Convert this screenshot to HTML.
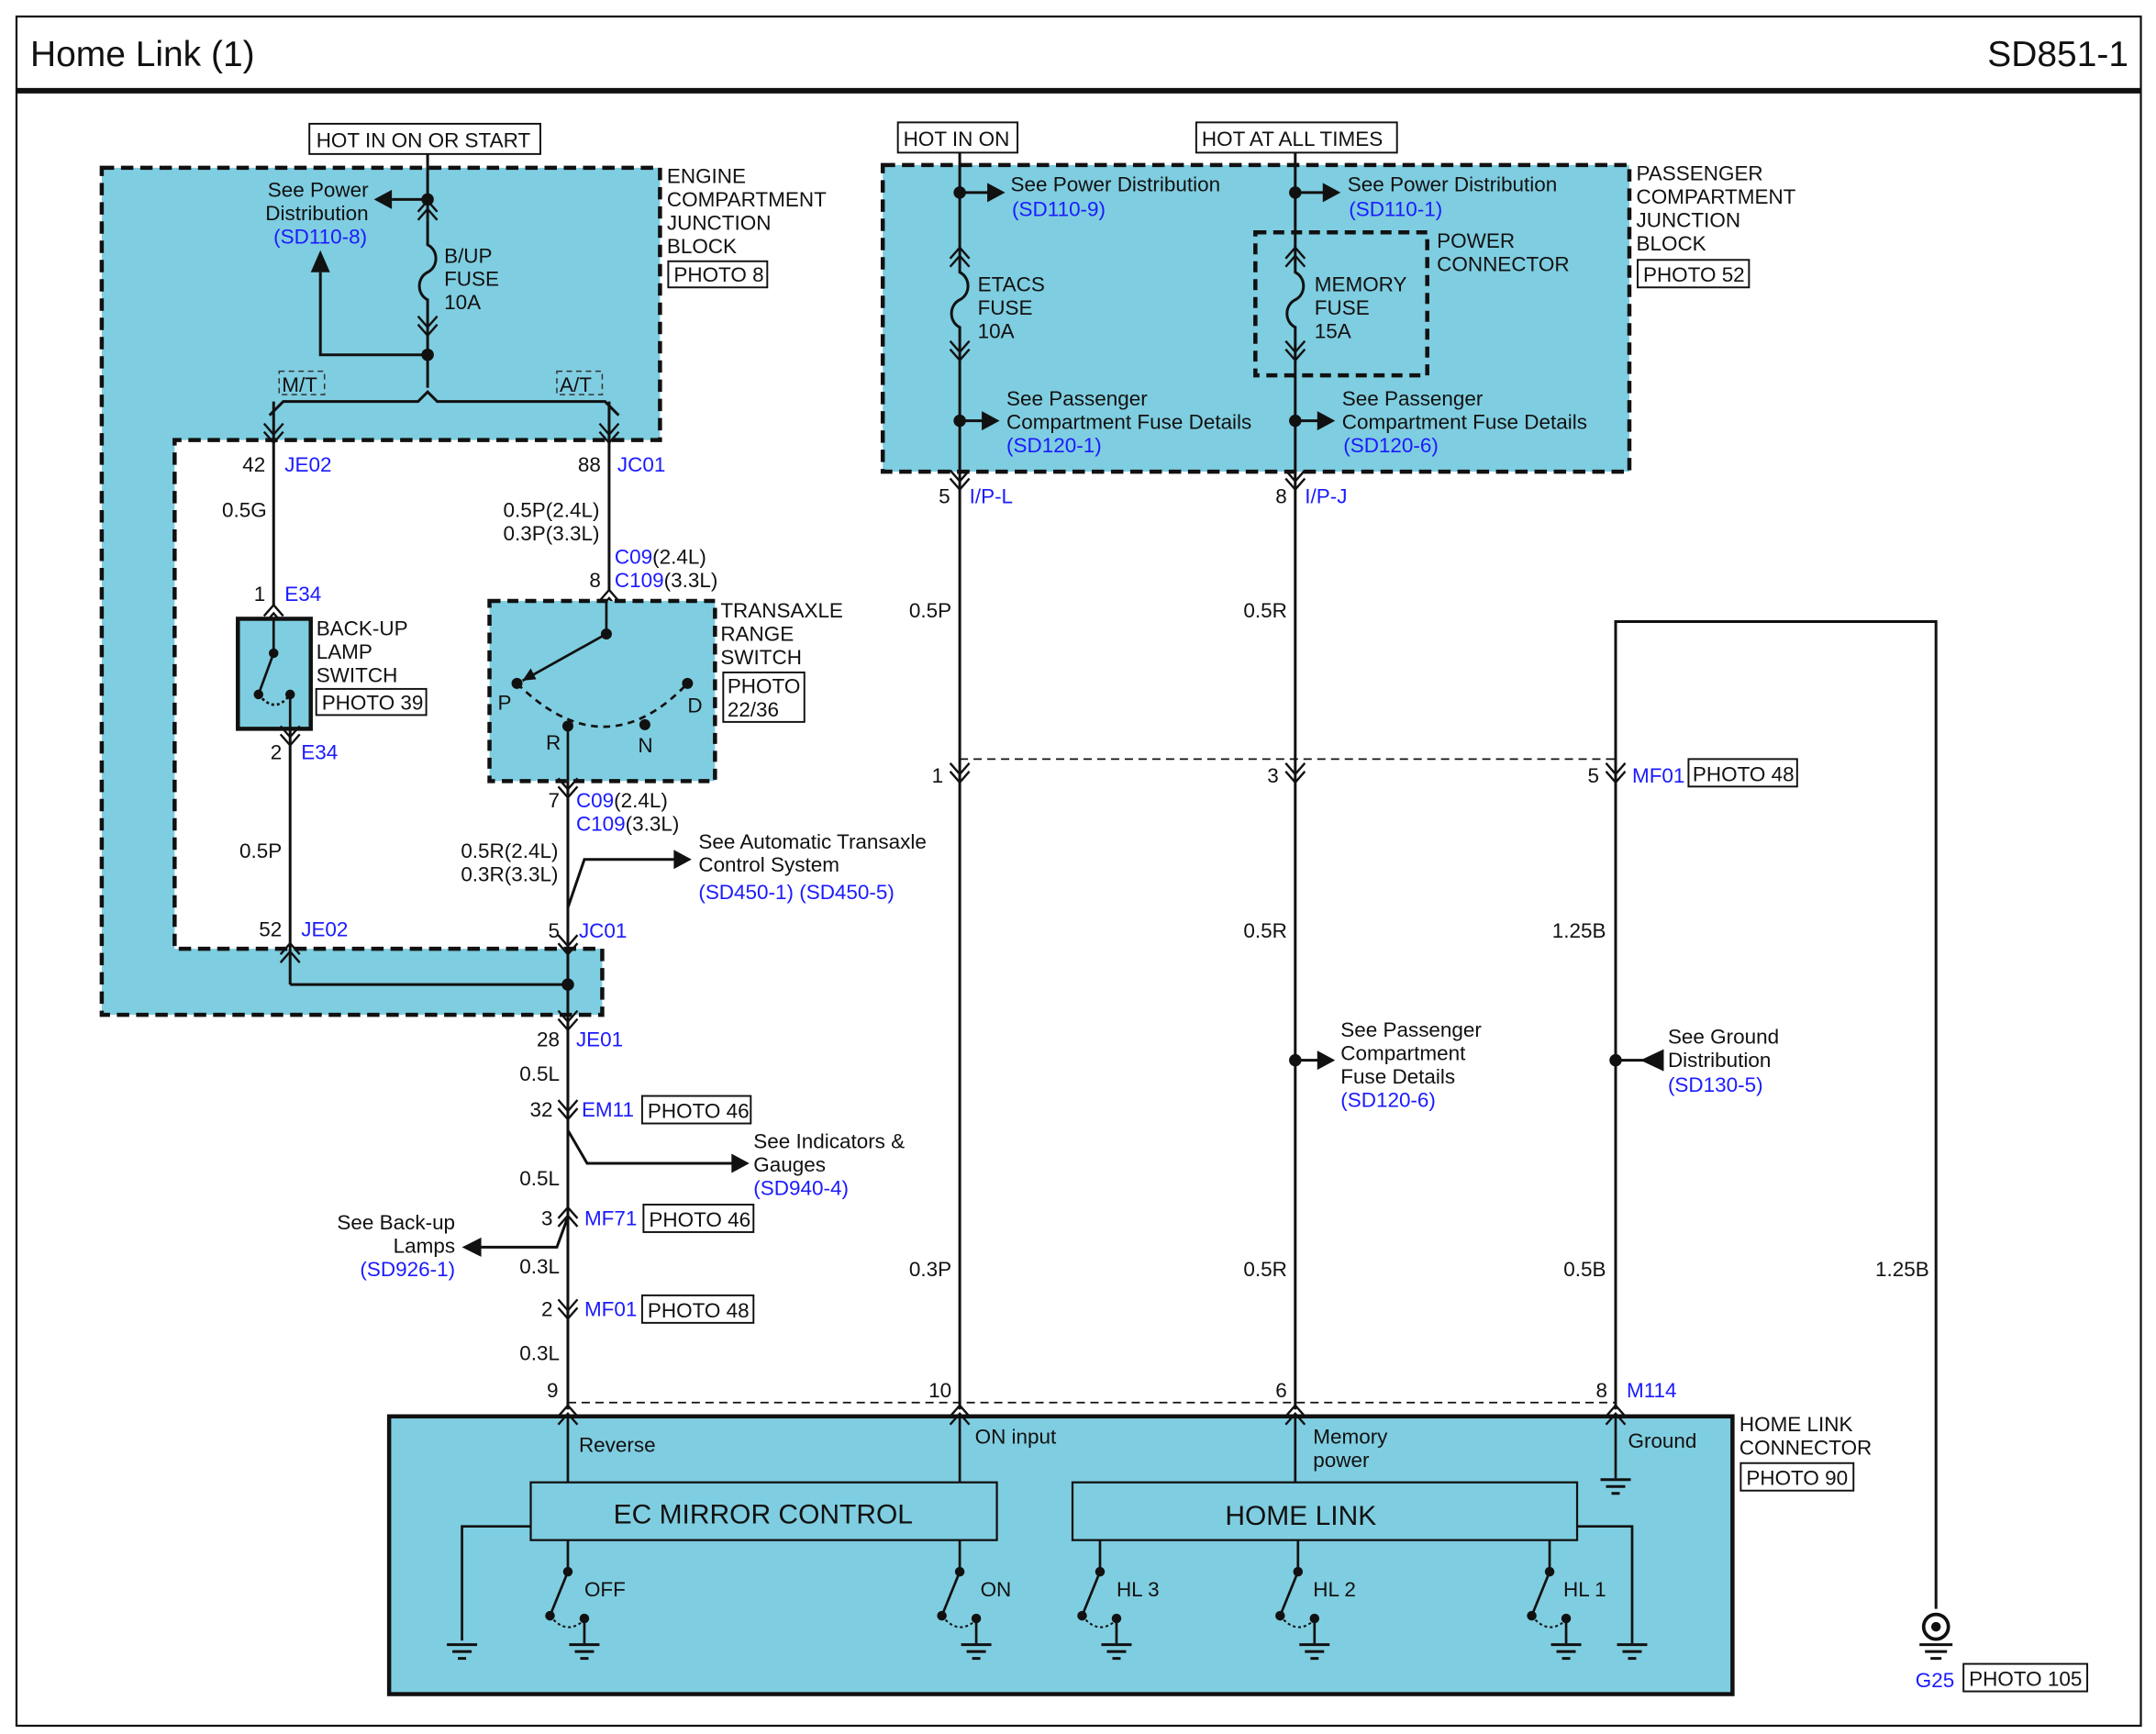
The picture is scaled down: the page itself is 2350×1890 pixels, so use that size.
<!DOCTYPE html>
<html><head><meta charset="utf-8"><style>
html,body{margin:0;padding:0;background:#fff;}
svg{display:block;}
text{font-family:"Liberation Sans",Arial,sans-serif;font-size:15px;fill:#111;}
.b{fill:#1a1aff;}
.r{text-anchor:end;}
</style></head><body>
<svg width="2350" height="1890" viewBox="0 0 1568 1261" preserveAspectRatio="none" xmlns="http://www.w3.org/2000/svg">
<defs>
<g id="cd"><path d="M-7,-10 L0,-2 L7,-10 M-7,-4 L0,4 L7,-4" fill="none" stroke="#111" stroke-width="1.6"/></g>
<g id="cu"><path d="M-7,10 L0,2 L7,10 M-7,4 L0,-4 L7,4" fill="none" stroke="#111" stroke-width="1.6"/></g>
<g id="gnd"><path d="M-11,0 H11 M-7,5 H7 M-3,10 H3" stroke="#111" stroke-width="2" fill="none"/></g>
</defs>
<rect x="0" y="0" width="1568" height="1261" fill="#fff"/>
<rect x="12" y="12" width="1545" height="1243" fill="none" stroke="#111" stroke-width="1.5"/>
<text x="22" y="48" style="font-size:26px">Home Link (1)</text>
<text x="1548" y="48" class="r" style="font-size:26px">SD851-1</text>
<line x1="12" y1="66" x2="1557" y2="66" stroke="#111" stroke-width="4"/>

<!-- engine compartment block -->
<path d="M74,122 H480 V320 H127 V690 H438 V738 H74 Z" fill="#7fcde0" stroke="#111" stroke-width="3" stroke-dasharray="9,5"/>
<rect x="225" y="90" width="168" height="22" fill="#fff" stroke="#111" stroke-width="1.3"/>
<text x="230" y="107">HOT IN ON OR START</text>
<text x="485" y="133">ENGINE</text><text x="485" y="150">COMPARTMENT</text><text x="485" y="167">JUNCTION</text><text x="485" y="184">BLOCK</text>
<rect x="486" y="190" width="72" height="19" fill="#fff" stroke="#111" stroke-width="1.3"/><text x="490" y="205">PHOTO 8</text>
<g stroke="#111" stroke-width="2" fill="none">
<line x1="311" y1="112" x2="311" y2="160"/>
<line x1="311" y1="145" x2="285" y2="145"/>
<path d="M311,160 V178 c8,4 8,16 0,20 c-8,4 -8,16 0,20 V258"/>
<line x1="311" y1="258" x2="311" y2="282"/>
<path d="M311,258 H233 V198"/>
<path d="M196,302 L206,292 H304 L311,285 L318,292 H440 L450,302"/>
<line x1="199" y1="292" x2="199" y2="440"/>
<line x1="443" y1="292" x2="443" y2="430"/>
<line x1="211" y1="530" x2="211" y2="716"/>
<line x1="211" y1="716" x2="413" y2="716"/>
<line x1="413" y1="528" x2="413" y2="1025"/>
<path d="M413,660 L425,625 H495"/>
<path d="M413,822 L427,846 H535"/>
<path d="M413,885 L405,907 H350"/>
</g>
<path d="M285,138 L272,145 L285,152 Z" fill="#111"/>
<path d="M226,198 L233,182 L240,198 Z" fill="#111"/>
<use href="#cu" x="311" y="150"/><use href="#cd" x="311" y="240"/>
<circle cx="311" cy="145" r="4.5" fill="#111"/><circle cx="311" cy="258" r="4.5" fill="#111"/>
<text x="268" y="143" class="r">See Power</text><text x="268" y="160" class="r">Distribution</text><text x="267" y="177" class="r b">(SD110-8)</text>
<text x="323" y="191">B/UP</text><text x="323" y="208">FUSE</text><text x="323" y="225">10A</text>
<text x="205" y="285">M/T</text><rect x="203" y="270" width="33" height="17" fill="none" stroke="#333" stroke-dasharray="4,3"/>
<text x="407" y="285">A/T</text><rect x="405" y="270" width="33" height="17" fill="none" stroke="#333" stroke-dasharray="4,3"/>
<use href="#cd" x="199" y="318"/><use href="#cd" x="443" y="318"/>
<text x="193" y="343" class="r">42</text><text x="207" y="343" class="b">JE02</text>
<text x="437" y="343" class="r">88</text><text x="449" y="343" class="b">JC01</text>
<text x="194" y="376" class="r">0.5G</text>
<text x="193" y="437" class="r">1</text><text x="207" y="437" class="b">E34</text>
<use href="#cu" x="199" y="444"/>
<rect x="173" y="450" width="53" height="80" fill="#7fcde0" stroke="#111" stroke-width="3"/>
<g stroke="#111" stroke-width="1.8" fill="none"><line x1="199" y1="450" x2="199" y2="475"/><line x1="199" y1="475" x2="188" y2="505"/><line x1="211" y1="505" x2="211" y2="530"/><path d="M188,505 Q200,520 211,505" stroke-dasharray="2,2"/></g>
<circle cx="199" cy="475" r="3.5" fill="#111"/><circle cx="188" cy="505" r="3.5" fill="#111"/><circle cx="211" cy="505" r="3.5" fill="#111"/>
<text x="230" y="462">BACK-UP</text><text x="230" y="479">LAMP</text><text x="230" y="496">SWITCH</text>
<rect x="230" y="501" width="80" height="19" fill="#fff" stroke="#111" stroke-width="1.3"/><text x="234" y="516">PHOTO 39</text>
<use href="#cd" x="211" y="538"/>
<text x="205" y="552" class="r">2</text><text x="219" y="552" class="b">E34</text>
<text x="205" y="624" class="r">0.5P</text>
<text x="205" y="681" class="r">52</text><text x="219" y="681" class="b">JE02</text>
<use href="#cu" x="211" y="690"/><use href="#cd" x="413" y="690"/>
<circle cx="413" cy="716" r="4.5" fill="#111"/>
<text x="436" y="376" class="r">0.5P(2.4L)</text><text x="436" y="393" class="r">0.3P(3.3L)</text>
<text x="447" y="410"><tspan class="b">C09</tspan>(2.4L)</text>
<text x="437" y="427" class="r">8</text><text x="447" y="427"><tspan class="b">C109</tspan>(3.3L)</text>
<use href="#cu" x="443" y="433"/>
<rect x="356" y="437" width="164" height="131" fill="#7fcde0" stroke="#111" stroke-width="3" stroke-dasharray="8,5"/>
<g stroke="#111" stroke-width="1.8" fill="none"><line x1="441" y1="437" x2="441" y2="461"/><line x1="441" y1="461" x2="380" y2="495"/><path d="M376,497 Q440,560 500,497" stroke-dasharray="5,4"/><line x1="413" y1="528" x2="413" y2="568"/></g>
<path d="M380,495 L386,486 L390,494 Z" fill="#111"/>
<circle cx="441" cy="461" r="4" fill="#111"/><circle cx="376" cy="497" r="4" fill="#111"/><circle cx="413" cy="528" r="4" fill="#111"/><circle cx="469" cy="527" r="4" fill="#111"/><circle cx="500" cy="497" r="4" fill="#111"/>
<text x="362" y="516">P</text><text x="397" y="545">R</text><text x="464" y="547">N</text><text x="500" y="518">D</text>
<text x="524" y="449">TRANSAXLE</text><text x="524" y="466">RANGE</text><text x="524" y="483">SWITCH</text>
<rect x="526" y="489" width="59" height="36" fill="#fff" stroke="#111" stroke-width="1.3"/><text x="529" y="504">PHOTO</text><text x="529" y="521">22/36</text>
<use href="#cd" x="413" y="576"/>
<text x="407" y="587" class="r">7</text><text x="419" y="587"><tspan class="b">C09</tspan>(2.4L)</text>
<text x="419" y="604"><tspan class="b">C109</tspan>(3.3L)</text>
<text x="406" y="624" class="r">0.5R(2.4L)</text><text x="406" y="641" class="r">0.3R(3.3L)</text>
<path d="M490,618 L503,625 L490,632 Z" fill="#111"/>
<text x="508" y="617">See Automatic Transaxle</text><text x="508" y="634">Control System</text><text x="508" y="654" class="b">(SD450-1) (SD450-5)</text>
<text x="407" y="682" class="r">5</text><text x="421" y="682" class="b">JC01</text>
<use href="#cd" x="413" y="745"/>
<text x="407" y="761" class="r">28</text><text x="419" y="761" class="b">JE01</text>
<text x="407" y="786" class="r">0.5L</text>
<use href="#cd" x="413" y="810"/>
<text x="402" y="812" class="r">32</text><text x="423" y="812" class="b">EM11</text>
<rect x="467" y="797" width="79" height="20" fill="#fff" stroke="#111" stroke-width="1.3"/><text x="471" y="813">PHOTO 46</text>
<path d="M532,839 L545,846 L532,853 Z" fill="#111"/>
<text x="548" y="835">See Indicators &amp;</text><text x="548" y="852">Gauges</text><text x="548" y="869" class="b">(SD940-4)</text>
<text x="407" y="862" class="r">0.5L</text>
<use href="#cu" x="413" y="882"/>
<text x="402" y="891" class="r">3</text><text x="425" y="891" class="b">MF71</text>
<rect x="468" y="876" width="80" height="20" fill="#fff" stroke="#111" stroke-width="1.3"/><text x="472" y="892">PHOTO 46</text>
<path d="M350,900 L336,907 L350,914 Z" fill="#111"/>
<text x="331" y="894" class="r">See Back-up</text><text x="331" y="911" class="r">Lamps</text><text x="331" y="928" class="r b">(SD926-1)</text>
<text x="407" y="926" class="r">0.3L</text>
<use href="#cd" x="413" y="955"/>
<text x="402" y="957" class="r">2</text><text x="425" y="957" class="b">MF01</text>
<rect x="467" y="942" width="81" height="20" fill="#fff" stroke="#111" stroke-width="1.3"/><text x="471" y="958">PHOTO 48</text>
<text x="407" y="989" class="r">0.3L</text>
<text x="406" y="1016" class="r">9</text>

<!-- passenger block -->
<rect x="642" y="120" width="543" height="223" fill="#7fcde0" stroke="#111" stroke-width="3" stroke-dasharray="9,5"/>
<rect x="653" y="89" width="87" height="22" fill="#fff" stroke="#111" stroke-width="1.3"/><text x="657" y="106">HOT IN ON</text>
<rect x="870" y="89" width="146" height="22" fill="#fff" stroke="#111" stroke-width="1.3"/><text x="874" y="106">HOT AT ALL TIMES</text>
<text x="1190" y="131">PASSENGER</text><text x="1190" y="148">COMPARTMENT</text><text x="1190" y="165">JUNCTION</text><text x="1190" y="182">BLOCK</text>
<rect x="1191" y="189" width="81" height="20" fill="#fff" stroke="#111" stroke-width="1.3"/><text x="1195" y="205">PHOTO 52</text>
<rect x="913" y="169" width="125" height="104" fill="none" stroke="#111" stroke-width="3" stroke-dasharray="8,5"/>
<text x="1045" y="180">POWER</text><text x="1045" y="197">CONNECTOR</text>
<g stroke="#111" stroke-width="2" fill="none">
<path d="M698,111 V198 c8,4 8,16 0,20 c-8,4 -8,16 0,20 V1025"/>
<path d="M942,111 V198 c8,4 8,16 0,20 c-8,4 -8,16 0,20 V1025"/>
<line x1="698" y1="140" x2="720" y2="140"/><line x1="942" y1="140" x2="964" y2="140"/>
<line x1="698" y1="306" x2="716" y2="306"/><line x1="942" y1="306" x2="960" y2="306"/>
<line x1="942" y1="771" x2="960" y2="771"/>
<line x1="1175" y1="771" x2="1198" y2="771"/>
<path d="M1175,1025 V452 H1408 V1170"/>
</g>
<g fill="#111">
<circle cx="698" cy="140" r="4.5"/><circle cx="942" cy="140" r="4.5"/><circle cx="698" cy="306" r="4.5"/><circle cx="942" cy="306" r="4.5"/><circle cx="942" cy="771" r="4.5"/><circle cx="1175" cy="771" r="4.5"/>
<path d="M718,133 L731,140 L718,147 Z"/><path d="M962,133 L975,140 L962,147 Z"/>
<path d="M714,299 L727,306 L714,313 Z"/><path d="M958,299 L971,306 L958,313 Z"/><path d="M958,764 L971,771 L958,778 Z"/>
<path d="M1210,763 L1193,771 L1210,779 Z"/>
</g>
<use href="#cu" x="698" y="184"/><use href="#cd" x="698" y="258"/>
<use href="#cu" x="942" y="184"/><use href="#cd" x="942" y="258"/>
<text x="735" y="139">See Power Distribution</text><text x="736" y="157" class="b">(SD110-9)</text>
<text x="980" y="139">See Power Distribution</text><text x="981" y="157" class="b">(SD110-1)</text>
<text x="711" y="212">ETACS</text><text x="711" y="229">FUSE</text><text x="711" y="246">10A</text>
<text x="956" y="212">MEMORY</text><text x="956" y="229">FUSE</text><text x="956" y="246">15A</text>
<text x="732" y="295">See Passenger</text><text x="732" y="312">Compartment Fuse Details</text><text x="732" y="329" class="b">(SD120-1)</text>
<text x="976" y="295">See Passenger</text><text x="976" y="312">Compartment Fuse Details</text><text x="977" y="329" class="b">(SD120-6)</text>
<use href="#cd" x="698" y="352"/><use href="#cd" x="942" y="352"/>
<text x="691" y="366" class="r">5</text><text x="705" y="366" class="b">I/P-L</text>
<text x="936" y="366" class="r">8</text><text x="949" y="366" class="b">I/P-J</text>
<text x="692" y="449" class="r">0.5P</text><text x="936" y="449" class="r">0.5R</text>
<line x1="698" y1="552" x2="1175" y2="552" stroke="#111" stroke-width="1.2" stroke-dasharray="6,4"/>
<use href="#cd" x="698" y="565"/><use href="#cd" x="942" y="565"/><use href="#cd" x="1175" y="565"/>
<text x="686" y="569" class="r">1</text><text x="930" y="569" class="r">3</text><text x="1163" y="569" class="r">5</text>
<text x="1187" y="569" class="b">MF01</text>
<rect x="1228" y="552" width="79" height="20" fill="#fff" stroke="#111" stroke-width="1.3"/><text x="1231" y="568">PHOTO 48</text>
<text x="936" y="682" class="r">0.5R</text><text x="1168" y="682" class="r">1.25B</text>
<text x="975" y="754">See Passenger</text><text x="975" y="771">Compartment</text><text x="975" y="788">Fuse Details</text><text x="975" y="805" class="b">(SD120-6)</text>
<text x="1213" y="759">See Ground</text><text x="1213" y="776">Distribution</text><text x="1213" y="794" class="b">(SD130-5)</text>
<text x="692" y="928" class="r">0.3P</text><text x="936" y="928" class="r">0.5R</text><text x="1168" y="928" class="r">0.5B</text><text x="1403" y="928" class="r">1.25B</text>

<!-- bottom connector -->
<line x1="413" y1="1020" x2="1175" y2="1020" stroke="#111" stroke-width="1.2" stroke-dasharray="6,4"/>
<text x="692" y="1016" class="r">10</text><text x="936" y="1016" class="r">6</text><text x="1169" y="1016" class="r">8</text><text x="1183" y="1016" class="b">M114</text>
<rect x="283" y="1030" width="977" height="202" fill="#7fcde0" stroke="#111" stroke-width="3"/>
<use href="#cu" x="413" y="1026"/><use href="#cu" x="698" y="1026"/><use href="#cu" x="942" y="1026"/><use href="#cu" x="1175" y="1026"/>
<text x="1265" y="1041">HOME LINK</text><text x="1265" y="1058">CONNECTOR</text>
<rect x="1266" y="1064" width="82" height="20" fill="#fff" stroke="#111" stroke-width="1.3"/><text x="1270" y="1080">PHOTO 90</text>
<g stroke="#111" stroke-width="1.8" fill="none">
<line x1="413" y1="1030" x2="413" y2="1078"/><line x1="698" y1="1030" x2="698" y2="1078"/><line x1="942" y1="1030" x2="942" y2="1078"/>
<line x1="1175" y1="1030" x2="1175" y2="1075"/>
<path d="M386,1110 H336 V1193"/>
<path d="M1147,1110 H1187 V1195"/>
<path d="M413,1120 V1143 L400,1175 M425,1175 V1195"/>
<path d="M698,1120 V1143 L685,1175 M710,1175 V1195"/>
<path d="M800,1120 V1143 L787,1175 M812,1175 V1195"/>
<path d="M944,1120 V1143 L931,1175 M956,1175 V1195"/>
<path d="M1127,1120 V1143 L1114,1175 M1139,1175 V1195"/>
</g>
<g stroke="#111" stroke-width="1.4" fill="none" stroke-dasharray="2,2">
<path d="M400,1175 Q412,1190 425,1178"/><path d="M685,1175 Q697,1190 710,1178"/><path d="M787,1175 Q799,1190 812,1178"/><path d="M931,1175 Q943,1190 956,1178"/><path d="M1114,1175 Q1126,1190 1139,1178"/>
</g>
<g fill="#111">
<circle cx="413" cy="1143" r="3.5"/><circle cx="400" cy="1175" r="3.5"/><circle cx="425" cy="1177" r="3.5"/>
<circle cx="698" cy="1143" r="3.5"/><circle cx="685" cy="1175" r="3.5"/><circle cx="710" cy="1177" r="3.5"/>
<circle cx="800" cy="1143" r="3.5"/><circle cx="787" cy="1175" r="3.5"/><circle cx="812" cy="1177" r="3.5"/>
<circle cx="944" cy="1143" r="3.5"/><circle cx="931" cy="1175" r="3.5"/><circle cx="956" cy="1177" r="3.5"/>
<circle cx="1127" cy="1143" r="3.5"/><circle cx="1114" cy="1175" r="3.5"/><circle cx="1139" cy="1177" r="3.5"/>
</g>
<use href="#gnd" x="336" y="1196"/><use href="#gnd" x="425" y="1196"/><use href="#gnd" x="710" y="1196"/><use href="#gnd" x="812" y="1196"/><use href="#gnd" x="956" y="1196"/><use href="#gnd" x="1139" y="1196"/><use href="#gnd" x="1187" y="1196"/><use href="#gnd" x="1175" y="1076"/>
<rect x="386" y="1078" width="339" height="42" fill="#7fcde0" stroke="#111" stroke-width="1.5"/>
<rect x="780" y="1078" width="367" height="42" fill="#7fcde0" stroke="#111" stroke-width="1.5"/>
<text x="555" y="1108" style="font-size:20px;text-anchor:middle">EC  MIRROR CONTROL</text>
<text x="946" y="1109" style="font-size:20px;text-anchor:middle">HOME  LINK</text>
<text x="421" y="1056">Reverse</text><text x="709" y="1050">ON input</text><text x="955" y="1050">Memory</text><text x="955" y="1067">power</text><text x="1184" y="1053">Ground</text>
<text x="425" y="1161">OFF</text><text x="713" y="1161">ON</text><text x="812" y="1161">HL 3</text><text x="955" y="1161">HL 2</text><text x="1137" y="1161">HL 1</text>
<!-- G25 -->
<circle cx="1408" cy="1183" r="9" fill="#fff" stroke="#111" stroke-width="2.5"/><circle cx="1408" cy="1183" r="3.5" fill="#111"/>
<path d="M1396,1196 H1420 M1400,1201 H1416 M1404,1206 H1412" stroke="#111" stroke-width="2"/>
<text x="1393" y="1227" class="b">G25</text>
<rect x="1428" y="1210" width="90" height="20" fill="#fff" stroke="#111" stroke-width="1.3"/><text x="1432" y="1226">PHOTO 105</text>
</svg>
</body></html>
